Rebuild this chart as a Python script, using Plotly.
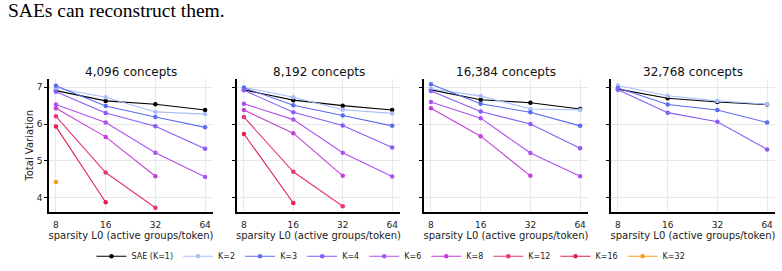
import plotly.graph_objects as go

x_vals = [8, 16, 32, 64]
panel_titles = ["4,096 concepts", "8,192 concepts", "16,384 concepts", "32,768 concepts"]
series_names = ["SAE (K=1)", "K=2", "K=3", "K=4", "K=6", "K=8", "K=12", "K=16", "K=32"]
series_colors = ["#000000", "#a9bff8", "#5b6cf0", "#8a5cf6", "#ad52f2", "#c53fd9", "#e8337a", "#e31f4c", "#f59f1a"]

p1 = {
    "SAE (K=1)": [6.91, 6.63, 6.54, 6.38],
    "K=2": [6.98, 6.73, 6.33, 6.27],
    "K=3": [7.04, 6.49, 6.19, 5.91],
    "K=4": [6.88, 6.30, 5.94, 5.33],
    "K=6": [6.53, 6.04, 5.22, 4.56],
    "K=8": [6.43, 5.65, 4.58],
    "K=12": [6.21, 4.68, 3.72],
    "K=16": [5.93, 3.87],
    "K=32": [4.42],
}
p2 = {
    "SAE (K=1)": [6.93, 6.65, 6.50, 6.38],
    "K=2": [7.00, 6.73, 6.39, 6.29],
    "K=3": [6.99, 6.51, 6.23, 5.95],
    "K=4": [6.92, 6.32, 5.96, 5.36],
    "K=6": [6.55, 6.12, 5.22, 4.57],
    "K=8": [6.38, 5.75, 4.59],
    "K=12": [6.19, 4.70, 3.76],
    "K=16": [5.73, 3.85],
}
p3 = {
    "SAE (K=1)": [6.93, 6.66, 6.58, 6.41],
    "K=2": [6.96, 6.76, 6.41, 6.38],
    "K=3": [7.08, 6.55, 6.32, 5.95],
    "K=4": [6.90, 6.34, 6.00, 5.34],
    "K=6": [6.60, 6.16, 5.21, 4.58],
    "K=8": [6.43, 5.67, 4.59],
}
p4 = {
    "SAE (K=1)": [6.95, 6.70, 6.60, 6.53],
    "K=2": [7.05, 6.77, 6.63, 6.54],
    "K=3": [6.98, 6.53, 6.38, 6.04],
    "K=4": [6.93, 6.31, 6.06, 5.31],
}
panels = [p1, p2, p3, p4]

W, H = 782, 271
x_px = [(49, 213), (237, 400), (424, 588), (611, 775)]
y_top, y_bot = 81, 217
ydom = [1 - y_bot / H, 1 - y_top / H]

fig = go.Figure()
for i, data in enumerate(panels):
    ax = "" if i == 0 else str(i + 1)
    for name, color in zip(series_names, series_colors):
        if name not in data:
            continue
        ys = data[name]
        fig.add_trace(go.Scatter(
            x=x_vals[:len(ys)], y=ys, mode="lines+markers",
            name=name, legendgroup=name, showlegend=(i == 0),
            line=dict(color=color, width=1.1),
            marker=dict(color=color, size=4.5, symbol="circle"),
            xaxis="x" + ax, yaxis="y" + ax,
        ))

layout = dict(
    width=W, height=H, margin=dict(l=0, r=0, t=0, b=0),
    paper_bgcolor="white", plot_bgcolor="white",
    font=dict(family="DejaVu Sans", color="#222222"),
    showlegend=True,
    legend=dict(orientation="h", x=0.5, xanchor="center", y=1 - 262 / H, yanchor="middle",
                font=dict(size=8), itemwidth=30, tracegroupgap=0),
)
annotations = []
for i in range(4):
    ax = "" if i == 0 else str(i + 1)
    x0, x1 = x_px[i]
    layout["xaxis" + ax] = dict(
        domain=[x0 / W, x1 / W], type="log", range=[0.861, 1.854],
        tickvals=x_vals, ticktext=[str(v) for v in x_vals],
        showgrid=True, gridcolor="#e8e8e8", gridwidth=1,
        showline=True, linecolor="black", linewidth=1.5,
        ticks="", tickfont=dict(size=9), zeroline=False, ticklabelstandoff=3,
        title=dict(text="sparsity L0 (active groups/token)", font=dict(size=10), standoff=1),
        anchor="y" + ax,
    )
    layout["yaxis" + ax] = dict(
        domain=ydom, range=[3.6, 7.22],
        tickvals=[4, 5, 6, 7], showticklabels=(i == 0),
        showgrid=True, gridcolor="#e8e8e8", gridwidth=1,
        showline=True, linecolor="black", linewidth=1.5,
        ticks="outside", ticklen=3, tickcolor="black", tickfont=dict(size=9),
        zeroline=False, anchor="x" + ax,
    )
    annotations.append(dict(
        text=panel_titles[i], x=(x0 + x1) / 2 / W, y=1 - 74 / H, xref="paper", yref="paper",
        showarrow=False, font=dict(size=12, color="#111111"), xanchor="center", yanchor="middle",
    ))
annotations.append(dict(
    text="Total Variation", x=30 / W, y=1 - 149 / H, xref="paper", yref="paper",
    showarrow=False, textangle=-90, font=dict(size=10, color="#222222"),
    xanchor="center", yanchor="middle",
))
annotations.append(dict(
    text="SAEs can reconstruct them.", x=6 / W, y=1 - 11 / H, xref="paper", yref="paper",
    showarrow=False, font=dict(family="Liberation Serif", size=19.5, color="black"),
    xanchor="left", yanchor="middle",
))
layout["annotations"] = annotations
fig.update_layout(**layout)
fig.write_html("out.html")
